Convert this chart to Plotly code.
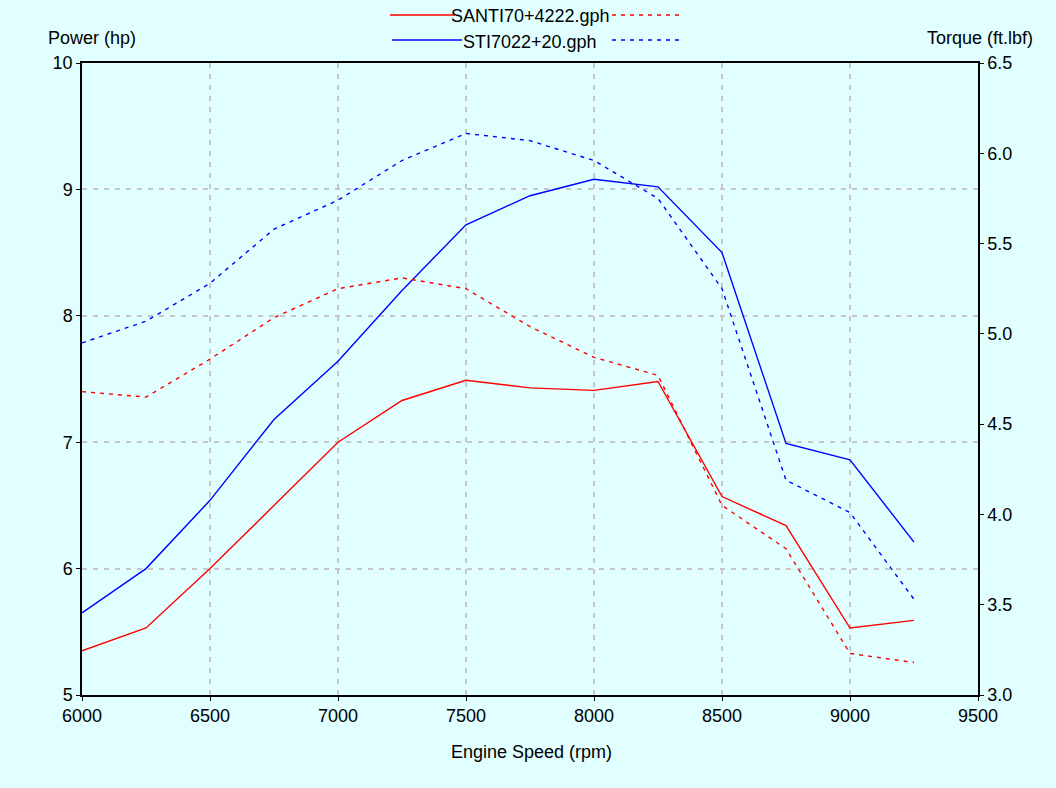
import plotly.graph_objects as go

rpm = [6000, 6250, 6500, 6750, 7000, 7250, 7500, 7750, 8000, 8250, 8500, 8750, 9000, 9250]
santi_power = [5.35, 5.53, 6.00, 6.50, 7.00, 7.33, 7.49, 7.43, 7.41, 7.48, 6.57, 6.34, 5.53, 5.59]
sti_power = [5.65, 6.00, 6.54, 7.18, 7.64, 8.20, 8.72, 8.95, 9.08, 9.02, 8.50, 6.99, 6.86, 6.21]
santi_torque = [4.68, 4.65, 4.86, 5.09, 5.25, 5.31, 5.25, 5.04, 4.87, 4.77, 4.05, 3.81, 3.23, 3.18]
sti_torque = [4.95, 5.07, 5.28, 5.58, 5.74, 5.96, 6.11, 6.07, 5.96, 5.75, 5.25, 4.19, 4.01, 3.53]

names = ["SANTI70+4222.gph", "STI7022+20.gph"]
RED = "#FF0000"
BLUE = "#0000FF"
BG = "#E1FFFF"
GRID = "#C6C6C6"
FONT = "Liberation Sans"
FS = 18

fig = go.Figure()
fig.add_trace(go.Scatter(x=rpm, y=santi_power, mode="lines", line=dict(color=RED, width=1.4), showlegend=False))
fig.add_trace(go.Scatter(x=rpm, y=sti_power, mode="lines", line=dict(color=BLUE, width=1.4), showlegend=False))
fig.add_trace(go.Scatter(x=rpm, y=santi_torque, mode="lines", yaxis="y2", line=dict(color=RED, width=1.4, dash="4px,5px"), showlegend=False))
fig.add_trace(go.Scatter(x=rpm, y=sti_torque, mode="lines", yaxis="y2", line=dict(color=BLUE, width=1.4, dash="4px,5px"), showlegend=False))

W, H = 1056, 788
L, R, T, B = 82, 78, 63, 93
pw, ph = W - L - R, H - T - B

def px(x):
    return (x - L) / pw

def py(y):
    return (H - B - y) / ph

shapes = []
annotations = []
rows = [(15, RED, 390, 455), (40, BLUE, 392, 462)]
for y, col, x0, x1 in rows:
    shapes.append(dict(type="line", xref="paper", yref="paper", x0=px(x0), x1=px(x1), y0=py(y), y1=py(y),
                       line=dict(color=col, width=1.4)))
    shapes.append(dict(type="line", xref="paper", yref="paper", x0=px(612), x1=px(680), y0=py(y), y1=py(y),
                       line=dict(color=col, width=1.4, dash="4px,5px")))

def ann(text, x, y):
    annotations.append(dict(text=text, xref="paper", yref="paper", x=px(x), y=py(y), showarrow=False,
                            font=dict(family=FONT, size=FS, color="#000"), xanchor="center", yanchor="middle"))

ann(names[0], 530, 16)
ann(names[1], 530, 42)
ann("Power (hp)", 92, 38)
ann("Torque (ft.lbf)", 980, 38)
ann("Engine Speed (rpm)", 531, 752)

axis_common = dict(showline=True, linecolor="#000", linewidth=1.5, ticks="outside", ticklen=4,
                   tickcolor="#000", zeroline=False, tickfont=dict(family=FONT, size=FS, color="#000"))
grid_common = dict(showgrid=True, gridcolor=GRID, griddash="5px,6px", gridwidth=1.6)

fig.update_layout(
    width=W, height=H,
    margin=dict(l=L, r=R, t=T, b=B),
    paper_bgcolor=BG, plot_bgcolor=BG,
    font=dict(family=FONT, size=FS, color="#000"),
    shapes=shapes, annotations=annotations,
    xaxis=dict(range=[6000, 9500], dtick=500, tick0=6000, mirror=True, **grid_common, **axis_common),
    yaxis=dict(range=[5, 10], dtick=1, **grid_common, **axis_common),
    yaxis2=dict(range=[3, 6.5], dtick=0.5, tickformat=".1f", overlaying="y", side="right", showgrid=False,
                **axis_common),
)

fig.write_html(
    "out.html",
    config={"displayModeBar": False},
    post_script="document.body.style.margin='0';document.body.style.overflow='hidden';"
                "document.body.style.background='" + BG + "';",
)
